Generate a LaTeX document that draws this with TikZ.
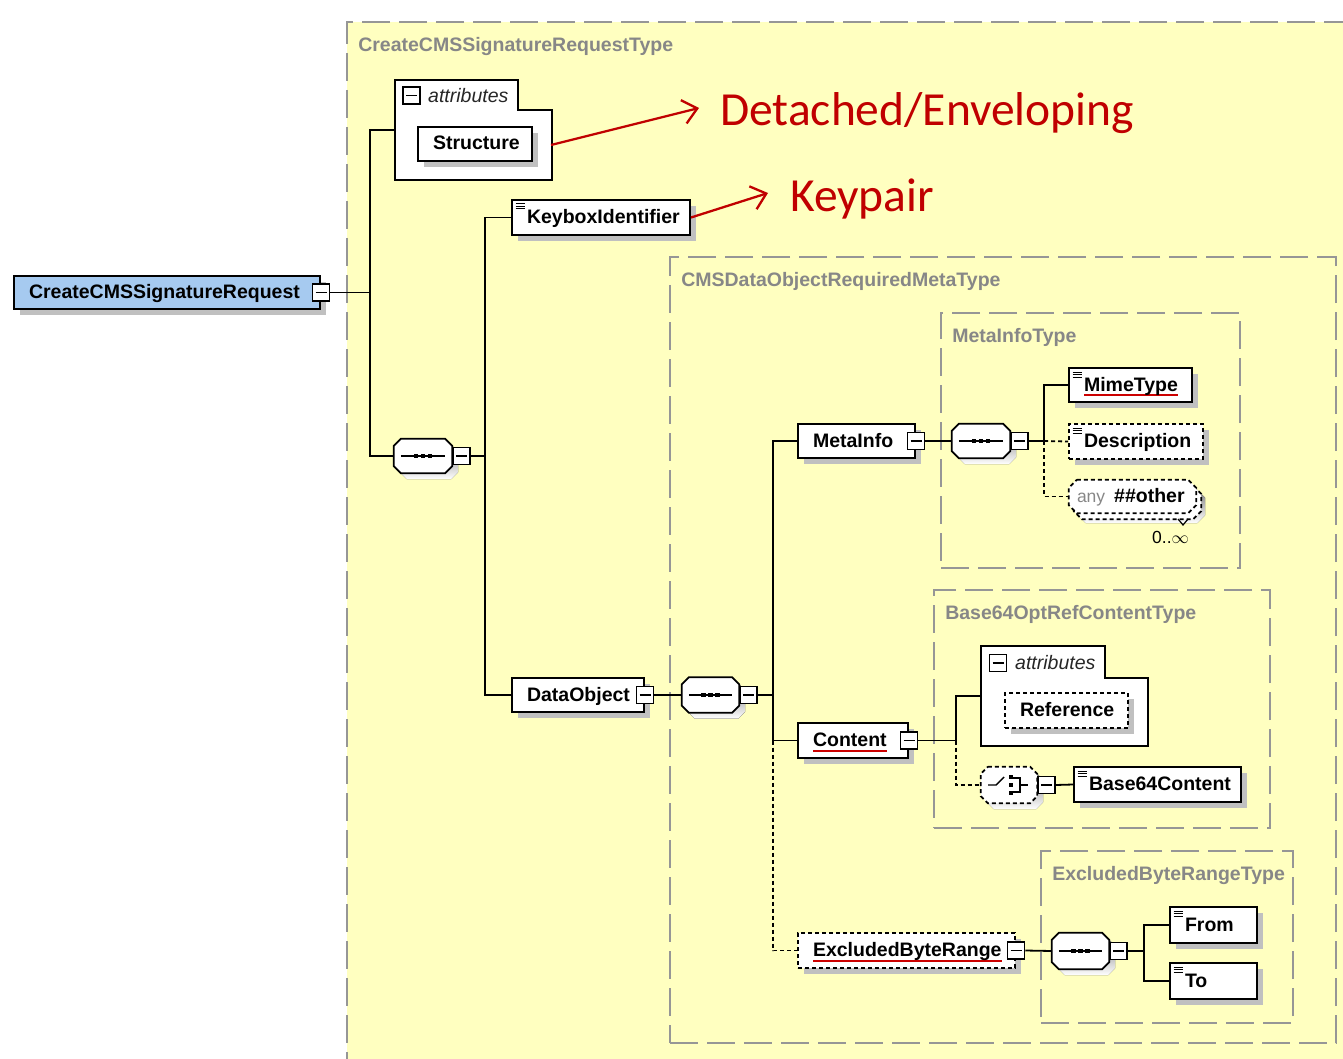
\documentclass[tikz,border=0pt]{standalone}
\usepackage{fontspec}
\setmainfont{Liberation Sans}
\newfontfamily\annfont{Carlito}
\usetikzlibrary{arrows.meta,calc,shadows}

\definecolor{bgyellow}{RGB}{255,255,192}
\definecolor{typegray}{RGB}{150,150,150}
\definecolor{labelgray}{RGB}{135,135,135}
\definecolor{shade}{RGB}{192,192,192}
\definecolor{rootblue}{RGB}{166,202,240}
\definecolor{annred}{RGB}{192,0,0}
\definecolor{ulred}{RGB}{204,0,0}

\tikzset{
  box/.style={draw=black, line width=2pt, fill=white, inner ysep=0pt, inner xsep=15pt,
    text height=14pt, text depth=2pt, font=\fontsize{19.5}{22}\selectfont\bfseries,
    drop shadow={shadow xshift=6pt, shadow yshift=-6pt, opacity=1, fill=shade}},
  optional/.style={dash pattern=on 4pt off 3pt},
  simple/.style={path picture={
    \foreach \k in {4,6.5,9}
      \draw[line width=1pt, solid] ([xshift=3.5pt,yshift=-\k pt]path picture bounding box.north west) -- ++(9pt,0pt);}},
  link/.style={line width=1.8pt},
  optlink/.style={link, dash pattern=on 4pt off 3pt},
  xbox/.style={draw, fill=white, line width=1.5pt, minimum size=17pt, inner sep=0pt, solid,
    path picture={\draw[line width=1.4pt, solid] ([xshift=3pt]path picture bounding box.west) -- ([xshift=-3pt]path picture bounding box.east);}},
  typeframe/.style={draw=typegray, line width=1.9pt, dash pattern=on 28pt off 9pt, inner sep=0pt},
  typelabel/.style={anchor=base west, inner sep=0pt, text=labelgray, font=\fontsize{19.5}{22}\selectfont\bfseries},
  comp/.style={inner sep=0pt},
  attrtext/.style={anchor=west, inner sep=0pt, font=\fontsize{19.5}{22}\selectfont\itshape, text=black!85},
  annarrow/.style={draw=annred, line width=2.3pt, -{Straight Barb[length=14pt,width=24pt,line width=2.3pt]}},
  anntext/.style={anchor=base west, inner sep=0pt, text=annred, font=\annfont\fontsize{47.5}{52}\selectfont},
}

% element box given by its corners: [options]{name}{x1}{y1}{x2}{y2}{text}
\newcommand\elem[7][]{%
  \node[box,#1,minimum width={#5pt-#3pt},minimum height={#6pt-#4pt}] (#2)
    at ({(#3+#5)/2},{(#4+#6)/2}) {\makebox[\dimexpr#5pt-#3pt-30pt\relax][l]{#7}};}
% schema type frame: {name}{x1}{y1}{x2}{y2}{label}
\newcommand\typebox[6]{%
  \node[typeframe,minimum width={#4pt-#2pt},minimum height={#5pt-#3pt}] (#1)
    at ({(#2+#4)/2},{(#3+#5)/2}) {};
  \node[typelabel] (#1-l) at ([xshift=12pt,yshift=-30pt]#1.north west) {#6};}
% octagon outline round a node: {name}{chamfer}
\newcommand\octa[2]{([xshift=#2pt]#1.north west) -- ([xshift=-#2pt]#1.north east)
  -- ([yshift=-#2pt]#1.north east) -- ([yshift=#2pt]#1.south east)
  -- ([xshift=-#2pt]#1.south east) -- ([xshift=#2pt]#1.south west)
  -- ([yshift=#2pt]#1.south west) -- ([yshift=-#2pt]#1.north west) -- cycle}
% compositor: [extra]{name}{x}{y}{w}{h}
\newcommand\compnode[6][]{%
  \node[comp,minimum width=#5pt,minimum height=#6pt] (#2) at (#3,#4) {};
  \fill[shade, transform canvas={xshift=6pt,yshift=-6pt}] \octa{#2}{7};
  \draw[fill=white, line width=1.7pt, #1] \octa{#2}{7};
  \node[xbox, anchor=west] (#2x) at (#2.east) {};}
% sequence symbol inside a compositor
\newcommand\seqmark[1]{%
  \draw[line width=1.4pt] ([xshift=7pt]#1.west) -- ([xshift=-7pt]#1.east);
  \foreach \d in {-7,0,7}
    \fill ([xshift=\d pt]#1.center) +(-2.4pt,-2.4pt) rectangle +(2.4pt,2.4pt);}
\newcommand\redul[1]{\setbox0=\hbox{#1}\rlap{\color{ulred}\rule[-5pt]{\wd0}{1.8pt}}\box0}

\begin{document}
\begin{tikzpicture}[x=1pt,y=-1pt]
\useasboundingbox (0,0) rectangle (1343,1059);
\clip (0,0) rectangle (1343,1059);
\fill[white] (0,0) rectangle (1343,1059);
\fill[bgyellow] (347,22) rectangle (1370,1090);

% type frames
\typebox{reqtype}{347}{22}{1370}{1090}{CreateCMSSignatureRequestType}
\typebox{dotype}{670}{257}{1336}{1043}{CMSDataObjectRequiredMetaType}
\typebox{mitype}{941}{313}{1240}{568}{MetaInfoType}
\typebox{b64type}{934}{590}{1270}{828}{Base64OptRefContentType}
\typebox{ebrtype}{1041}{851}{1293}{1023}{ExcludedByteRangeType}

% junction columns
\coordinate (j1) at (370,0);
\coordinate (j2) at (485,0);
\coordinate (j3) at (773,0);
\coordinate (j4) at (1044,0);
\coordinate (j5) at (956,0);
\coordinate (j6) at (1144,0);

% root element
\elem[fill=rootblue]{root}{14}{276}{320}{309}{CreateCMSSignatureRequest}
\node[xbox] (rootx) at (root.east) {};

% attribute group of the request
\node[comp,minimum width=157pt,minimum height=100pt] (attr1) at (473.5,130) {};
\draw[fill=white, line width=2pt] (attr1.north west) -- ([xshift=123pt]attr1.north west)
  -- ([xshift=123pt,yshift=-30pt]attr1.north west) -- ([yshift=-30pt]attr1.north east)
  -- (attr1.south east) -- (attr1.south west) -- cycle;
\node[xbox] (attr1x) at (411.5,95.5) {};
\node[attrtext] (attr1t) at (428,96) {attributes};
\elem{structure}{418}{127}{532}{161}{Structure}

% first sequence
\compnode{s1}{423}{456}{58}{34}
\seqmark{s1}
\elem[simple]{keybox}{512}{200}{690}{235}{KeyboxIdentifier}
\elem{dataobj}{512}{678}{644}{712}{DataObject}
\node[xbox] (dataobjx) at (dataobj.east) {};

% data object sequence
\compnode{s2}{710.5}{695}{57}{35}
\seqmark{s2}
\elem{metainfo}{798}{424}{915}{458}{MetaInfo}
\node[xbox] (metainfox) at (metainfo.east) {};
\elem{content}{798}{723}{908}{758}{\redul{Content}}
\node[xbox] (contentx) at (content.east) {};
\elem[optional]{excluded}{798}{933}{1015}{968}{\redul{ExcludedByteRange}}
\node[xbox] (excludedx) at (excluded.east) {};

% meta info sequence
\compnode{s3}{981}{441}{58}{34}
\seqmark{s3}
\elem[simple]{mimetype}{1069}{368}{1192}{402}{\redul{MimeType}}
\elem[simple,optional]{description}{1069}{424}{1203}{459}{Description}

% wildcard, repeated
\node[comp,minimum width=127pt,minimum height=33pt] (any) at (1132.5,496.5) {};
\fill[shade, transform canvas={xshift=9pt,yshift=-10pt}] \octa{any}{8};
\draw[fill=white, line width=1.7pt, optional, transform canvas={xshift=5pt,yshift=-6pt}] \octa{any}{8};
\draw[fill=white, line width=1.7pt, optional] \octa{any}{8};
\draw[line width=1.2pt] (1178,519) -- (1183,525) -- (1188,519);
\node[anchor=west, inner sep=0pt, text height=14pt, text depth=2pt] (anyt) at ([xshift=8pt]any.west)
  {{\color{labelgray}\fontsize{17.5}{20}\selectfont any}\hspace{9pt}{\fontsize{19.5}{22}\selectfont\bfseries\#\#other}};
\node[anchor=base west, inner sep=0pt, font=\fontsize{17.5}{20}\selectfont] (anyocc) at (1152,543) {0..\ensuremath{\infty}};

% content type
\node[comp,minimum width=167pt,minimum height=100pt] (attr2) at (1064.5,696) {};
\draw[fill=white, line width=2pt] (attr2.north west) -- ([xshift=124pt]attr2.north west)
  -- ([xshift=124pt,yshift=-32pt]attr2.north west) -- ([yshift=-32pt]attr2.north east)
  -- (attr2.south east) -- (attr2.south west) -- cycle;
\node[xbox] (attr2x) at (998,663) {};
\node[attrtext] (attr2t) at (1015,663) {attributes};
\elem[optional]{reference}{1005}{693}{1128}{728}{Reference}

\compnode[optional]{choice}{1009}{785}{56}{36}
\draw[line width=1.4pt] (988,785) -- (996,785) -- (1004,777);
\foreach \yy in {777,785,793}
  \fill (1008.5,\yy-2.4) rectangle (1013.3,\yy+2.4);
\draw[line width=1.4pt] (1013,778) -- (1020,778) -- (1020,792) -- (1013,792) (1020,785) -- (1028,785);
\elem[simple]{base64}{1074}{767}{1241}{802}{Base64Content}

% byte range sequence
\compnode{s4}{1080.5}{951}{57}{36}
\seqmark{s4}
\elem[simple]{from}{1170}{907}{1257}{943}{From}
\elem[simple]{to}{1170}{963}{1257}{999}{To}

% connectors
\draw[link] (rootx.east) -- (j1 |- rootx.east) |- (attr1.west);
\draw[link] (j1 |- rootx.east) |- (s1.west);
\draw[link] (s1x.east) -- (j2 |- s1x.east) |- (keybox.west);
\draw[link] (j2 |- s1x.east) |- (dataobj.west);
\draw[link] (dataobjx.east) -- (s2.west);
\draw[link] (s2x.east) -- (j3 |- s2x.east) |- (metainfo.west);
\draw[link] (j3 |- s2x.east) |- (content.west);
\draw[optlink] (j3 |- content.west) |- (excluded.west);
\draw[link] (metainfox.east) -- (s3.west);
\draw[link] (s3x.east) -- (j4 |- s3x.east) |- (mimetype.west);
\draw[optlink] (j4 |- s3x.east) -- (description.west);
\draw[optlink] (j4 |- s3x.east) |- (any.west);
\draw[link] (contentx.east) -- (j5 |- contentx.east) |- (attr2.west);
\draw[optlink] (j5 |- contentx.east) |- (choice.west);
\draw[link] (choicex.east) -- (base64.west);
\draw[link] (excludedx.east) -- (s4.west);
\draw[link] (s4x.east) -- (j6 |- s4x.east) |- (from.west);
\draw[link] (j6 |- s4x.east) |- (to.west);

% annotations
\node[anntext] (ann1) at (720,126) {Detached/Enveloping};
\node[anntext] (ann2) at (790,212) {Keypair};
\coordinate (tip1) at (699,108);
\coordinate (tip2) at (768,193);
\draw[annarrow] ([xshift=18pt,yshift=-1pt]structure.east) -- (tip1);
\draw[annarrow] (keybox.east) -- (tip2);
\end{tikzpicture}
\end{document}
